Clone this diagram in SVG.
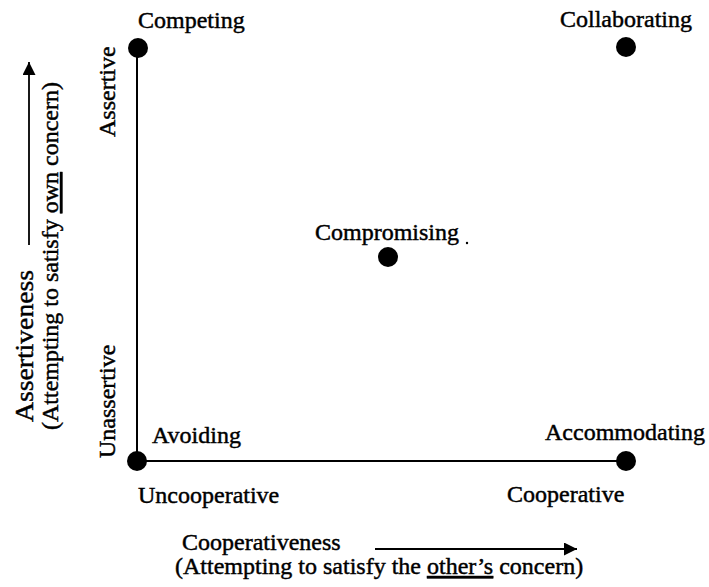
<svg xmlns="http://www.w3.org/2000/svg" width="709" height="587" viewBox="0 0 709 587">
<defs>
<marker id="ah" viewBox="0 0 13 13" refX="13" refY="6.5" markerWidth="13" markerHeight="13" markerUnits="userSpaceOnUse" orient="auto">
<path d="M0,0 L13,6.5 L0,13 Z" fill="#000"/>
</marker>
</defs>
<style>
text{font-family:"Liberation Serif","Times New Roman",serif;font-size:24px;fill:#000;stroke:#000;stroke-width:0.45}
.dot{fill:#000}
.ax{stroke:#000;stroke-width:2;fill:none}
.ar{stroke:#000;stroke-width:1.8;fill:none}
.u{text-decoration:underline}
</style>
<rect width="709" height="587" fill="#fff"/>
<g id="connectors">
<line class="ax" x1="137" y1="48" x2="137" y2="461"/>
<line class="ax" x1="137" y1="461" x2="626" y2="461"/>
<line class="ar" x1="29" y1="245" x2="29" y2="62" marker-end="url(#ah)"/>
<line class="ar" x1="375" y1="549" x2="577" y2="549" marker-end="url(#ah)"/>
</g>
<g id="competing"><circle class="dot" cx="138" cy="48" r="10"/><text x="138" y="28">Competing</text></g>
<g id="collaborating"><circle class="dot" cx="626" cy="47" r="10"/><text x="560" y="27">Collaborating</text></g>
<g id="compromising"><circle class="dot" cx="388" cy="257" r="10"/><text x="315" y="240">Compromising</text><circle class="dot" cx="467" cy="243" r="1.2"/></g>
<g id="avoiding"><circle class="dot" cx="137" cy="461" r="10"/><text x="152" y="443">Avoiding</text></g>
<g id="accommodating"><circle class="dot" cx="626" cy="461" r="10"/><text x="545" y="440">Accommodating</text></g>
<g id="axis-labels">
<text x="138" y="503">Uncooperative</text>
<text x="507" y="502">Cooperative</text>
<text x="182" y="550">Cooperativeness</text>
<text x="175" y="574">(Attempting to satisfy the <tspan class="u">other’s</tspan> concern)</text>
<text transform="translate(115,137) rotate(-90)">Assertive</text>
<text transform="translate(115,458) rotate(-90)">Unassertive</text>
<text transform="translate(33,422) rotate(-90)" textLength="152" lengthAdjust="spacingAndGlyphs" style="font-size:26px">Assertiveness</text>
<text transform="translate(58,430) rotate(-90)">(Attempting to satisfy <tspan class="u">own</tspan> concern)</text>
</g>
</svg>
